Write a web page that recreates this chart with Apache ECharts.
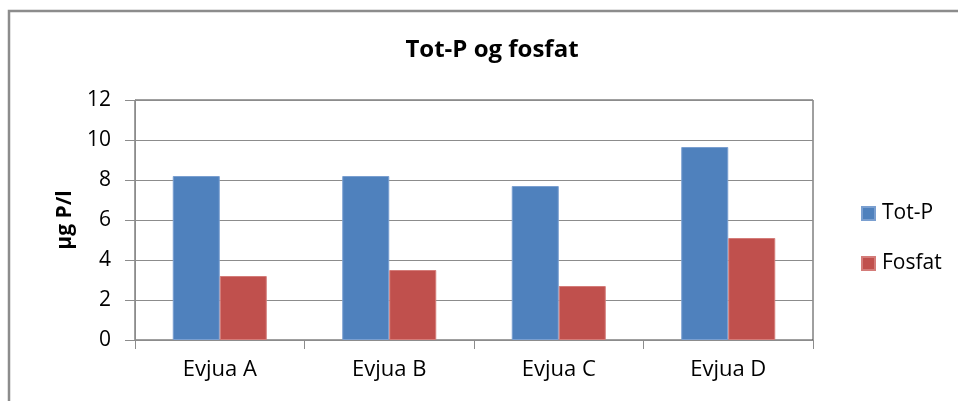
<!DOCTYPE html>
<html>
<head>
<meta charset="utf-8">
<script src="https://cdn.jsdelivr.net/npm/echarts@6/dist/echarts.min.js"></script>
<style>
  html, body { margin: 0; padding: 0; background: #fff; }
  #chart { width: 958px; height: 401px; }
</style>
</head>
<body>
<div id="chart"></div>
<script>
const categories = ['Evjua A', 'Evjua B', 'Evjua C', 'Evjua D']
const totP = [8.2, 8.2, 7.7, 9.65]
const fosfat = [3.2, 3.5, 2.7, 5.1]
const yTicks = [0, 2, 4, 6, 8, 10, 12]

const FONT = '"Open Sans", "Liberation Sans", sans-serif'

const chart = echarts.init(document.getElementById('chart'))

const option = {
  animation: false,
  backgroundColor: '#fff',
  textStyle: { fontFamily: FONT },
  title: {
    text: 'Tot-P og fosfat',
    left: 487,
    top: 33,
    textAlign: 'center',
    textStyle: {
      fontFamily: FONT,
      fontWeight: 'bold',
      fontSize: 24,
      color: '#000'
    }
  },
  graphic: [
    {
      type: 'rect',
      shape: { x: 9, y: 11, width: 1000, height: 500 },
      style: { fill: 'none', stroke: '#8c8c8c', lineWidth: 2.5 },
      silent: true
    }
  ],
  legend: {
    orient: 'vertical',
    left: 856,
    top: 198,
    itemWidth: 13,
    itemHeight: 13,
    itemGap: 29,
    icon: 'rect',
    textStyle: {
      fontFamily: FONT,
      fontSize: 21,
      color: '#000',
      padding: [0, 0, 0, 2]
    },
    data: ['Tot-P', 'Fosfat']
  },
  grid: {
    left: 135,
    right: 145,
    top: 100,
    bottom: 61,
    show: true,
    borderColor: '#404040',
    borderWidth: 1
  },
  xAxis: {
    type: 'category',
    data: categories,
    axisLine: { lineStyle: { color: '#8c8c8c', width: 1 } },
    axisTick: { show: true, length: 9, lineStyle: { color: '#8c8c8c' } },
    axisLabel: {
      fontFamily: FONT,
      fontSize: 22,
      color: '#000',
      margin: 19
    }
  },
  yAxis: {
    type: 'value',
    min: yTicks[0],
    max: yTicks[yTicks.length - 1],
    interval: 2,
    name: 'µg P/l',
    nameLocation: 'middle',
    nameGap: 59,
    nameTextStyle: {
      fontFamily: FONT,
      fontWeight: 'bold',
      fontSize: 21,
      color: '#000'
    },
    axisLine: { show: true, lineStyle: { color: '#8c8c8c', width: 1 } },
    axisTick: { show: true, length: 10, lineStyle: { color: '#8c8c8c' } },
    axisLabel: {
      fontFamily: FONT,
      fontSize: 21,
      color: '#000',
      margin: 24
    },
    splitLine: { lineStyle: { color: '#8c8c8c', width: 1 } }
  },
  series: [
    {
      name: 'Tot-P',
      type: 'bar',
      data: totP,
      barWidth: 47,
      barGap: '0%',
      itemStyle: { color: '#4f81bd', borderColor: '#7a9fd0', borderWidth: 1 }
    },
    {
      name: 'Fosfat',
      type: 'bar',
      data: fosfat,
      barWidth: 47,
      barGap: '0%',
      itemStyle: { color: '#c0504d', borderColor: '#d47c79', borderWidth: 1 }
    }
  ]
}

chart.setOption(option)
</script>
</body>
</html>
